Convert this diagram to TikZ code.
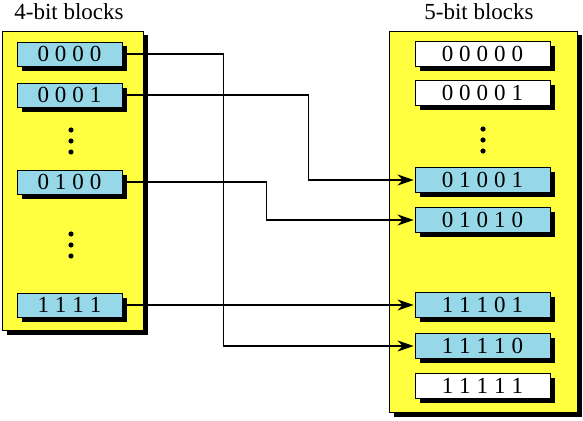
\documentclass[tikz,border=0pt]{standalone}
\usepackage{fontspec}
\setmainfont{Liberation Serif}
\usetikzlibrary{arrows.meta,shadows}
\definecolor{panelyellow}{RGB}{255,255,64}
\definecolor{bitblue}{RGB}{150,215,232}
\newcommand\bitfont{\fontsize{23}{27}\selectfont\spaceskip=6pt\relax}
\newcommand\titlefont{\fontsize{23}{27}\selectfont}
\begin{document}
\begin{tikzpicture}[x=1pt,y=-1pt,
  panel/.style={draw=black, line width=0.8pt, fill=panelyellow},
  bitbox/.style={draw=black, line width=0.8pt, inner sep=0pt, font=\bitfont,
    drop shadow={shadow xshift=4.5pt, shadow yshift=-4.5pt, fill=black, opacity=1}},
  leftbox/.style={bitbox, fill=bitblue, minimum width=105pt, minimum height=24pt},
  rightbox/.style={bitbox, minimum width=135pt, minimum height=25pt},
  blue/.style={fill=bitblue},
  white/.style={fill=white},
  conn/.style={line width=1.7pt, -{Stealth[length=16pt,width=11pt,inset=5pt]}, shorten >=1pt},
  dot/.style={fill=black}]
\useasboundingbox (0,0) rectangle (583,420);
% panels
\fill[black] (6.5,35.5) rectangle (147.5,334.5);
\draw[panel] (2,31) rectangle (143,330);
\fill[black] (393.5,35.5) rectangle (582,417);
\draw[panel] (389,31) rectangle (577,412);
% titles
\node[font=\titlefont, anchor=base] (t4) at (69,20) {4-bit blocks};
\node[font=\titlefont, anchor=base] (t5) at (479,20) {5-bit blocks};
% left boxes
\node[leftbox] (l0) at (69.5,54) {0 0 0 0};
\node[leftbox] (l1) at (69.5,95) {0 0 0 1};
\node[leftbox] (l2) at (69.5,182) {0 1 0 0};
\node[leftbox] (l3) at (69.5,305) {1 1 1 1};
% right boxes
\node[rightbox, white] (r0) at (482.5,54) {0 0 0 0 0};
\node[rightbox, white] (r1) at (482.5,93) {0 0 0 0 1};
\node[rightbox, blue] (r2) at (482.5,180) {0 1 0 0 1};
\node[rightbox, blue] (r3) at (482.5,220) {0 1 0 1 0};
\node[rightbox, blue] (r4) at (482.5,305) {1 1 1 0 1};
\node[rightbox, blue] (r5) at (482.5,346) {1 1 1 1 0};
\node[rightbox, white] (r6) at (482.5,386) {1 1 1 1 1};
% dots
\foreach \y in {130,141,152,234,245,256} \fill[dot] (71,\y) circle (2.6);
\foreach \y in {129,140,151} \fill[dot] (483,\y) circle (2.6);
% connectors
\draw[conn] (l0.east) -- ++(101,0) |- (r5.west);
\draw[conn] (l1.east) -- ++(186,0) |- (r2.west);
\draw[conn] (l2.east) -- ++(144,0) |- (r3.west);
\draw[conn] (l3.east) -- (r4.west);
\end{tikzpicture}
\end{document}
